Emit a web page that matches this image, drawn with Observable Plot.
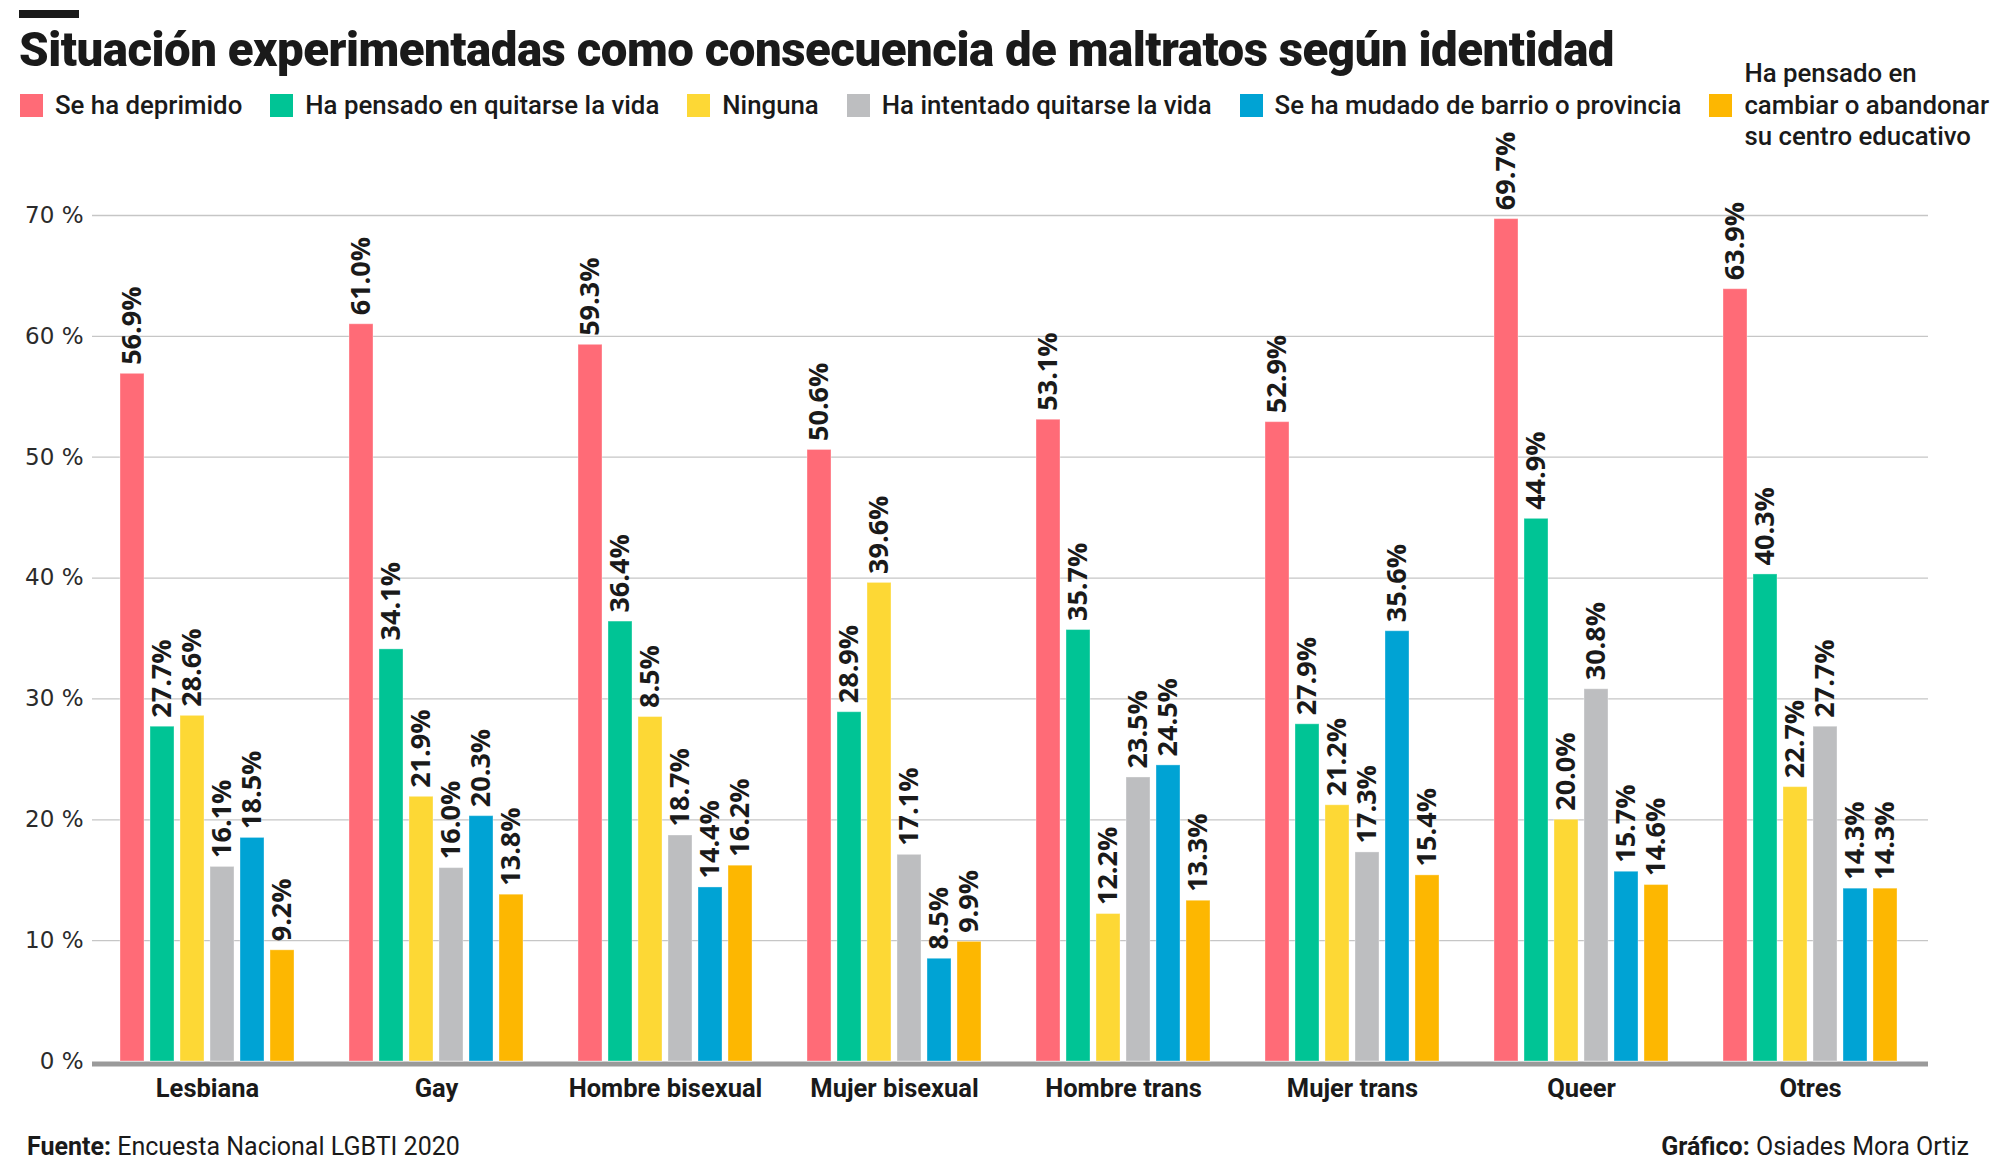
<!DOCTYPE html>
<html lang="es">
<head>
<meta charset="utf-8">
<script src="https://cdn.jsdelivr.net/npm/d3@7"></script>
<script src="https://cdn.jsdelivr.net/npm/@observablehq/plot@0.6"></script>
<style>
  html, body { margin: 0; padding: 0; background: #fff; }
  #page { position: relative; width: 1998px; height: 1174px; overflow: hidden; font-family: Roboto, sans-serif; color: #1a1a1a; }
  #topbar { position: absolute; left: 19px; top: 10px; width: 60px; height: 8px; background: #1a1a1a; }
  #title { position: absolute; left: 19px; top: 25px; font: 900 49px/49px Roboto, sans-serif; white-space: nowrap; transform-origin: 0 0; letter-spacing: -0.5px; color: #1a1a1a; }
  #legend { position: absolute; left: 20px; top: 58px; height: 95px; display: flex; align-items: center; gap: 28px; }
  .item { display: flex; align-items: center; gap: 12px; font: 500 25.8px/31.5px Roboto, sans-serif; white-space: nowrap; color: #1a1a1a; }
  .sw { width: 23px; height: 23px; flex: none; }
  #chartA, #chartB { position: absolute; left: 0; top: 120px; }
  #chartA svg text { font: 23px "DejaVu Sans", sans-serif; fill: #2b2b2b; }
  #chartB [aria-label^="fx-axis"] text { font: 700 25.5px Roboto, sans-serif; fill: #1a1a1a; }
  #source { position: absolute; left: 27px; top: 1134px; font: 400 25px/25px Roboto, sans-serif; color: #1a1a1a; }
  #credit { position: absolute; right: 29px; top: 1134px; font: 400 25px/25px Roboto, sans-serif; color: #1a1a1a; }
  b { font-weight: 700; }
</style>
</head>
<body>
<div id="page">
  <div id="topbar"></div>
  <div id="title">Situación experimentadas como consecuencia de maltratos según identidad</div>
  <div id="legend"></div>
  <div id="chartA"></div>
  <div id="chartB"></div>
  <div id="source"><b>Fuente:</b> Encuesta Nacional LGBTI 2020</div>
  <div id="credit"><b>Gráfico:</b> Osiades Mora Ortiz</div>
</div>
<script>
// ---------- data ----------
const categories = ["Lesbiana", "Gay", "Hombre bisexual", "Mujer bisexual", "Hombre trans", "Mujer trans", "Queer", "Otres"];
const series = [
  "Se ha deprimido",
  "Ha pensado en quitarse la vida",
  "Ninguna",
  "Ha intentado quitarse la vida",
  "Se ha mudado de barrio o provincia",
  "Ha pensado en cambiar o abandonar su centro educativo"
];
const legendLines = [
  ["Se ha deprimido"],
  ["Ha pensado en quitarse la vida"],
  ["Ninguna"],
  ["Ha intentado quitarse la vida"],
  ["Se ha mudado de barrio o provincia"],
  ["Ha pensado en", "cambiar o abandonar", "su centro educativo"]
];
const colors = ["#ff6b77", "#00c495", "#fdd835", "#bdbec0", "#00a3d4", "#fdb701"];

const seHaDeprimido      = [56.9, 61.0, 59.3, 50.6, 53.1, 52.9, 69.7, 63.9];
const pensadoQuitarse    = [27.7, 34.1, 36.4, 28.9, 35.7, 27.9, 44.9, 40.3];
const ninguna            = [28.6, 21.9, 28.5, 39.6, 12.2, 21.2, 20.0, 22.7];
const intentadoQuitarse  = [16.1, 16.0, 18.7, 17.1, 23.5, 17.3, 30.8, 27.7];
const mudadoBarrio       = [18.5, 20.3, 14.4, 8.5, 24.5, 35.6, 15.7, 14.3];
const cambiarCentro      = [9.2, 13.8, 16.2, 9.9, 13.3, 15.4, 14.6, 14.3];
const seriesValues = [seHaDeprimido, pensadoQuitarse, ninguna, intentadoQuitarse, mudadoBarrio, cambiarCentro];

// label printed in the original differs from the bar height here
const labelOverrides = { "Hombre bisexual|Ninguna": "8.5%" };

const yTickCount = 7;
const yMax = 70;

// ---------- table ----------
const rows = [];
categories.forEach((c, i) => {
  series.forEach((s, j) => {
    const v = seriesValues[j][i];
    rows.push({ category: c, series: s, value: v, label: labelOverrides[c + "|" + s] ?? (v.toFixed(1) + "%") });
  });
});

// ---------- legend ----------
const legend = document.getElementById("legend");
series.forEach((s, j) => {
  const it = document.createElement("div");
  it.className = "item";
  const sw = document.createElement("div");
  sw.className = "sw";
  sw.style.background = colors[j];
  const tx = document.createElement("div");
  tx.innerHTML = legendLines[j].join("<br>");
  it.appendChild(sw);
  it.appendChild(tx);
  legend.appendChild(it);
});

// ---------- charts ----------
const common = { width: 1998, height: 990, marginTop: 95, marginBottom: 49, marginLeft: 92, marginRight: 70 };

const chartA = Plot.plot({
  ...common,
  y: { domain: [0, yMax], ticks: yTickCount, tickFormat: d => d + " %", tickSize: 0, tickPadding: 9, label: null },
  marks: [
    Plot.ruleY(d3.ticks(0, yMax, yTickCount).filter(t => t > 0), { stroke: "#c6c6c6", strokeWidth: 1.3 }),
    Plot.ruleY([0], { stroke: "#9a9a9a", strokeWidth: 5, dy: 2.5 })
  ]
});
document.getElementById("chartA").appendChild(chartA);

const chartB = Plot.plot({
  ...common,
  style: { background: "transparent" },
  facet: { data: rows, x: "category" },
  fx: { domain: categories, paddingInner: 0.23, paddingOuter: 0.1206, align: 0.48, axis: "bottom", tickSize: 0, tickPadding: 17, label: null },
  x: { domain: series, axis: null, paddingInner: 0.19, paddingOuter: 0 },
  y: { domain: [0, yMax], axis: null },
  color: { domain: series, range: colors },
  marks: [
    Plot.barY(rows, { x: "series", y: "value", fill: "series", stroke: "#ffffff", strokeOpacity: 0.35, strokeWidth: 1 }),
    Plot.text(rows, { x: "series", y: "value", text: "label", rotate: -90, textAnchor: "start", dy: -9,
      fontSize: 27, fontWeight: 700, fontFamily: "Open Sans", fill: "#1a1a1a" })
  ]
});
document.getElementById("chartB").appendChild(chartB);

// ---------- fit title width ----------
function fitTitle() {
  const t = document.getElementById("title");
  t.style.transform = "none";
  const w = t.getBoundingClientRect().width;
  if (w > 0) t.style.transform = "scaleX(" + (1595 / w) + ")";
}
fitTitle();
if (document.fonts && document.fonts.ready) document.fonts.ready.then(fitTitle);
</script>
</body>
</html>
